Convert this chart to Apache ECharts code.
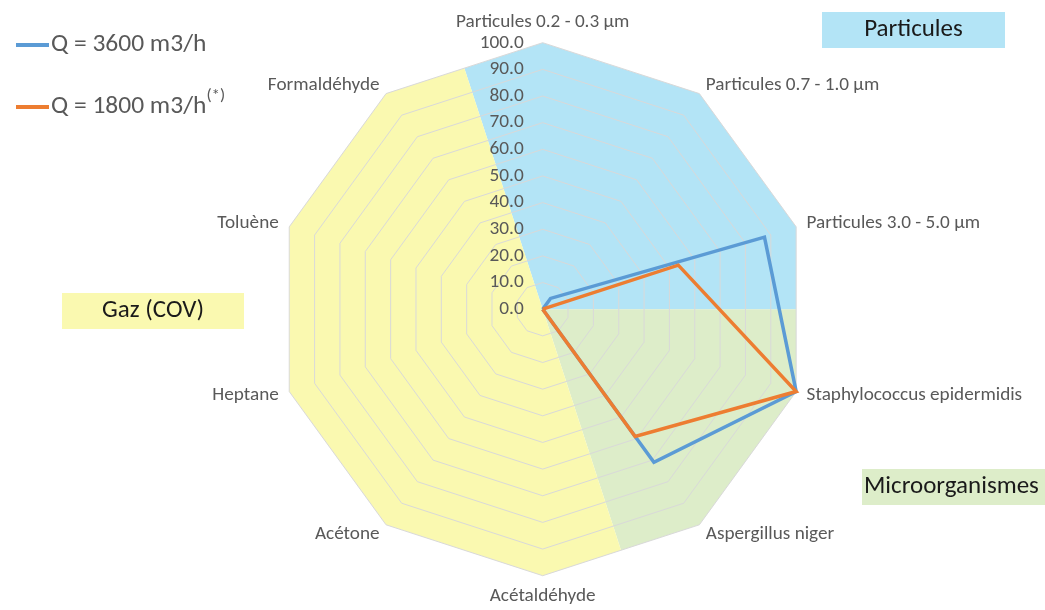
<!DOCTYPE html>
<html>
<head>
<meta charset="utf-8">
<script src="https://cdn.jsdelivr.net/npm/echarts@6/dist/echarts.min.js"></script>
<style>
  html, body { margin: 0; padding: 0; background: #ffffff; }
  #chart { width: 1045px; height: 610px; }
</style>
</head>
<body>
<div id="chart"></div>
<script>
// ---- data -------------------------------------------------------------
// Radar axes, listed clockwise starting from the top
const categories = [
  'Particules 0.2 - 0.3 µm',
  'Particules 0.7 - 1.0 µm',
  'Particules 3.0 - 5.0 µm',
  'Staphylococcus epidermidis',
  'Aspergillus niger',
  'Acétaldéhyde',
  'Acétone',
  'Heptane',
  'Toluène',
  'Formaldéhyde'
];
const seriesNames = ['Q = 3600 m3/h', 'Q = 1800 m3/h'];
const footnoteMark = '(*)';               // attached to the second flow rate
const q3600 = [0, 5, 87.5, 100, 71, 0, 0, 0, 0, 0];
const q1800 = [0, 0, 53.5, 100, 59, 0, 0, 0, 0, 0];
const axisMin = 0;
const axisMax = 100;
const tickCount = 10;                      // 0.0, 10.0 ... 100.0
// Families of pollutants, as indexes into `categories`
const groupNames = ['Particules', 'Microorganismes', 'Gaz (COV)'];
const groupMembers = [[0, 1, 2], [3, 4], [5, 6, 7, 8, 9]];

// ---- style ------------------------------------------------------------
const FONT = 'Carlito, Lato, sans-serif';
const TEXT = '#595959';
const GRID = '#D9D9D9';
const LINE_COLORS = ['#5B9BD5', '#ED7D31'];
const GROUP_COLORS = ['#B3E4F6', '#DDEDC9', '#FAF9B0'];
const CENTER = [542.7, 309.2];
const RADIUS = 266.5;
// caption boxes for the three families: [x, y, width, height, text align]
const GROUP_BOXES = [
  [822, 12, 183, 36, 'center'],
  [862, 469, 200, 36, 'left'],
  [62, 293, 182, 36, 'center']
];

// ---- layout helpers ---------------------------------------------------
// ECharts lays radar indicators out counter-clockwise, so walk the
// clockwise list backwards (keeping the first axis at the top).
const n = categories.length;
const cwIndex = i => (n - (i % n)) % n;
const ccwList = arr => Array.from({ length: n }, (_, i) => arr[cwIndex(i)]);

// A family's background sector follows the outer polygon and is cut
// halfway along the edges that border the neighbouring families.
const edgeMid = axisMax * Math.cos(Math.PI / n);
function sectorOutline(members) {
  const inGroup = i => members.includes(cwIndex(i));
  const out = [];
  for (let i = 0; i < n; i++) {
    out.push(inGroup(i) ? axisMax : axisMin);
    out.push(inGroup(i) || inGroup(i + 1) ? edgeMid : axisMin);
  }
  return out;
}

const chart = echarts.init(document.getElementById('chart'), null, { renderer: 'canvas' });

const option = {
  animation: false,
  backgroundColor: '#ffffff',
  legend: {
    orient: 'vertical',
    left: 11,
    top: 20,
    itemWidth: 33,
    itemHeight: 4,
    itemGap: 22,
    icon: 'rect',
    data: seriesNames,
    formatter: name => name === seriesNames[1]
      ? `{m|${name}}{s|${footnoteMark}}`
      : `{m|${name}}`,
    textStyle: {
      color: TEXT,
      fontFamily: FONT,
      fontSize: 25.5,
      lineHeight: 40,
      rich: {
        m: { color: TEXT, fontFamily: FONT, fontSize: 25.5, lineHeight: 40, padding: [0, 0, 0, -3] },
        s: { color: TEXT, fontFamily: FONT, fontSize: 17, lineHeight: 17, verticalAlign: 'top' }
      }
    }
  },
  radar: [
    {
      // visible grid, axis names and the value scale on the top axis
      z: 2,
      center: CENTER,
      radius: RADIUS,
      startAngle: 90,
      shape: 'polygon',
      splitNumber: tickCount,
      nameGap: 11,
      indicator: ccwList(categories).map((name, i) => Object.assign(
        { name: name, min: axisMin, max: axisMax },
        i === 0 ? { axisLabel: { show: true } } : {}
      )),
      axisName: { color: TEXT, fontFamily: FONT, fontSize: 19.2 },
      axisLine: { show: false },
      axisTick: { show: false },
      axisLabel: {
        show: false,
        color: TEXT,
        fontFamily: FONT,
        fontSize: 19.3,
        margin: 19,
        formatter: v => Number(v).toFixed(1)
      },
      splitLine: { lineStyle: { color: GRID, width: 1 } },
      splitArea: { show: false }
    },
    {
      // twice as many spokes, used only to shape the family sectors
      z: 1,
      center: CENTER,
      radius: RADIUS,
      startAngle: 90,
      shape: 'polygon',
      indicator: Array.from({ length: 2 * n }, () => ({ name: '', min: axisMin, max: axisMax })),
      axisName: { show: false },
      axisLine: { show: false },
      axisTick: { show: false },
      axisLabel: { show: false },
      splitLine: { show: false },
      splitArea: { show: false },
      silent: true
    }
  ],
  series: [
    {
      type: 'radar',
      radarIndex: 1,
      z: 1,
      silent: true,
      symbol: 'none',
      data: groupMembers.map((m, g) => ({
        name: groupNames[g],
        value: sectorOutline(m),
        lineStyle: { width: 0, opacity: 0 },
        areaStyle: { color: GROUP_COLORS[g], opacity: 1 }
      }))
    },
    {
      type: 'radar',
      radarIndex: 0,
      z: 3,
      symbol: 'none',
      data: [q3600, q1800].map((vals, k) => ({
        name: seriesNames[k],
        value: ccwList(vals),
        itemStyle: { color: LINE_COLORS[k] },
        lineStyle: { color: LINE_COLORS[k], width: 3.5, join: 'miter' }
      }))
    }
  ],
  graphic: groupNames.map((label, g) => {
    const [x, y, w, h, align] = GROUP_BOXES[g];
    return {
      type: 'group',
      left: x,
      top: y,
      children: [
        { type: 'rect', shape: { x: 0, y: 0, width: w, height: h }, style: { fill: GROUP_COLORS[g] } },
        {
          type: 'text',
          x: align === 'center' ? w / 2 : 2,
          y: h / 2,
          style: {
            text: label,
            fill: '#1A1A1A',
            font: '25px ' + FONT,
            align: align,
            verticalAlign: 'middle'
          }
        }
      ]
    };
  })
};

chart.setOption(option);
</script>
</body>
</html>
